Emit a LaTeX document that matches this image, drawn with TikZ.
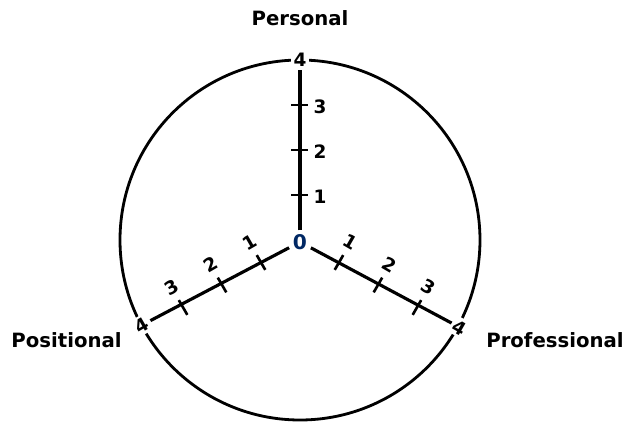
\documentclass[tikz,border=0pt]{standalone}
\usepackage{fontspec}
\setmainfont{DejaVu Sans}
\usetikzlibrary{calc}
\definecolor{zeroblue}{RGB}{0,40,100}
\tikzset{
  ring/.style     = {line width=1.6pt},
  axisline/.style = {line width=1.8pt},
  tickmark/.style = {line width=1.5pt},
  num/.style      = {font=\fontsize{10.5}{12}\selectfont\bfseries, inner sep=1pt},
  endnum/.style   = {num, fill=white, inner sep=1.5pt},
  title/.style    = {font=\fontsize{11.2}{13}\selectfont\bfseries},
}
\begin{document}
\begin{tikzpicture}
  \useasboundingbox (-6,-3.76) rectangle (6.52,4.8);
  \draw[ring] (0,0) circle (3.6);

  % centre and end points
  \node[num, text=zeroblue, fill=white, inner sep=2pt, font=\fontsize{11.5}{12}\selectfont\bfseries] (o) at (0,-0.04) {0};
  \node[endnum] (top4) at (90:3.6) {4};
  \node[endnum, rotate=30] (left4) at ($(210:3.6)+(-0.04,0.1)$) {4};
  \node[endnum, rotate=-30] (right4) at ($(330:3.6)+(0.08,0.05)$) {4};

  \draw[axisline] (o) -- (top4);
  \draw[axisline] (o) -- (left4);
  \draw[axisline] (o) -- (right4);

  % ticks and their numbers
  \foreach \i in {1,2,3} {
    \draw[tickmark] ($(90:0.9*\i)+(180:0.17)$) -- ($(90:0.9*\i)+(0:0.17)$);
    \draw[tickmark] ($(210:0.9*\i)+(300:0.17)$) -- ($(210:0.9*\i)+(120:0.17)$);
    \draw[tickmark] ($(330:0.9*\i)+(240:0.17)$) -- ($(330:0.9*\i)+(60:0.17)$);
    \node[num] (p\i) at ($(90:0.9*\i)+(0.4,-0.04)$) {\i};
    \node[num, rotate=30] (l\i) at ($(210:0.9*\i)+(120:0.47)$) {\i};
    \node[num, rotate=-30] (r\i) at ($(330:0.9*\i)+(60:0.47)$) {\i};
  }

  % axis titles
  \node[title] (personal) at (0,4.44) {Personal};
  \node[title] (positional) at (-4.67,-2.0) {Positional};
  \node[title] (professional) at (5.1,-2.0) {Professional};
\end{tikzpicture}
\end{document}
